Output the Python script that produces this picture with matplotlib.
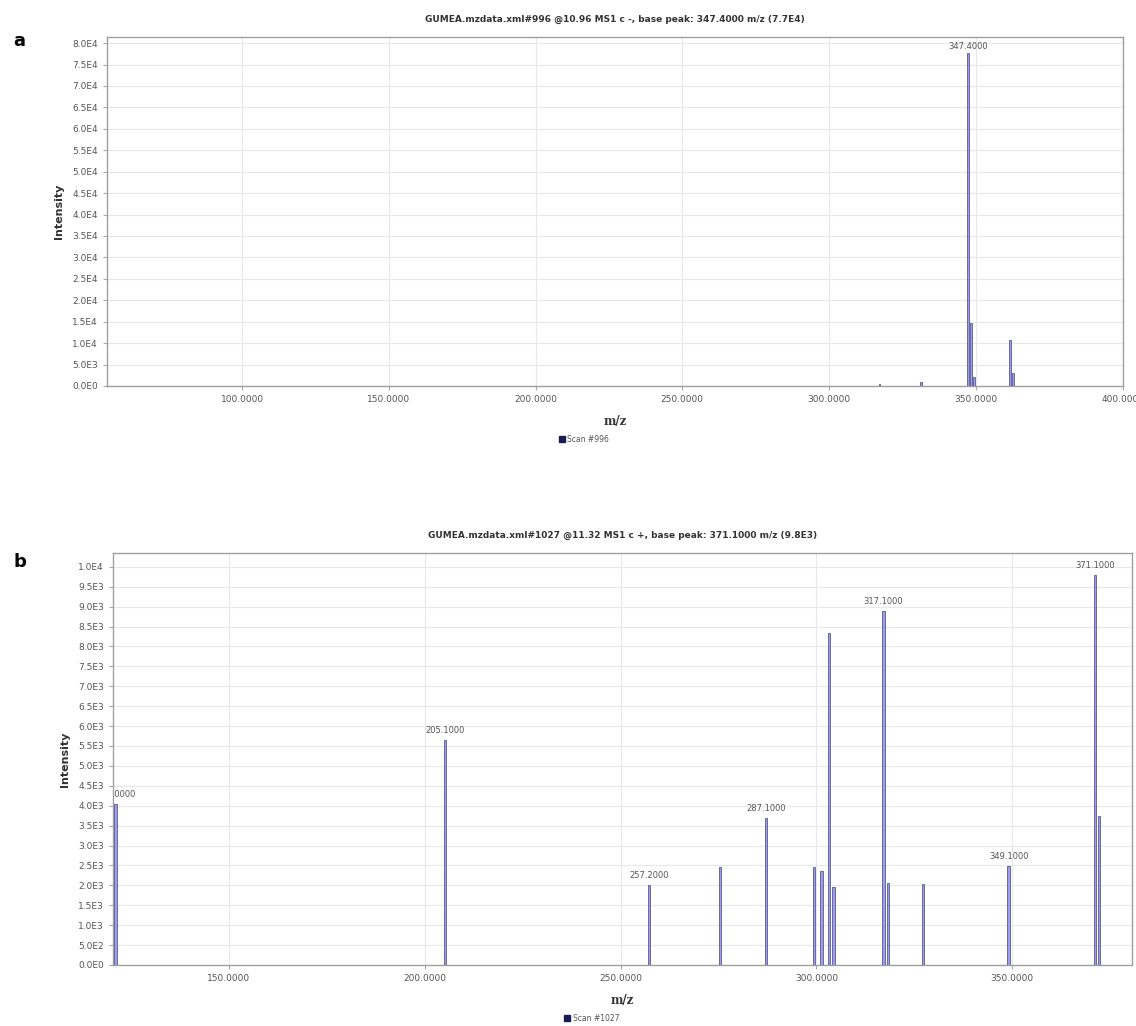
import matplotlib.pyplot as plt
from matplotlib.ticker import FuncFormatter, MultipleLocator

# panel a : scan #996
a_mz = [317.2, 331.3, 347.4, 348.4, 349.4, 361.6, 362.6]
a_int = [500, 900, 77600, 14600, 2200, 10700, 3000]
a_labels = {347.4: '347.4000'}
a_title = 'GUMEA.mzdata.xml#996 @10.96 MS1 c -, base peak: 347.4000 m/z (7.7E4)'
a_scan = 'Scan #996'

# panel b : scan #1027
b_mz = [121.0, 205.1, 257.2, 275.4, 287.1, 299.4, 301.3, 303.3, 304.4,
        317.1, 318.3, 327.3, 349.1, 371.1, 372.2]
b_int = [4050, 5650, 2020, 2450, 3700, 2450, 2350, 8350, 1950,
         8900, 2050, 2030, 2480, 9800, 3750]
b_labels = {121.0: '121.0000', 205.1: '205.1000', 257.2: '257.2000', 287.1: '287.1000',
            317.1: '317.1000', 349.1: '349.1000', 371.1: '371.1000'}
b_title = 'GUMEA.mzdata.xml#1027 @11.32 MS1 c +, base peak: 371.1000 m/z (9.8E3)'
b_scan = 'Scan #1027'


def sci(v, pos):
    if v == 0:
        return '0.0E0'
    e = len(str(int(abs(v)))) - 1
    return '%.1fE%d' % (v / 10 ** e, e)


def draw(ax, mz, inten, labels, title, scan, xlim, ylim, ystep, lab_off, leg_y):
    ax.bar(mz, inten, width=0.6, color='#9c9cf0', edgecolor='#5a5a8c',
           linewidth=0.6, zorder=3)
    for m, t in labels.items():
        h = inten[mz.index(m)]
        ax.text(m, h + lab_off, t, ha='center', va='bottom', fontsize=6,
                color='#555555', clip_on=True, zorder=4)
    ax.set_xlim(*xlim)
    ax.set_ylim(*ylim)
    ax.xaxis.set_major_locator(MultipleLocator(50))
    ax.yaxis.set_major_locator(MultipleLocator(ystep))
    ax.xaxis.set_major_formatter(FuncFormatter(lambda v, p: '%.4f' % v))
    ax.yaxis.set_major_formatter(FuncFormatter(sci))
    ax.grid(True, color='#e8e8e8', linewidth=0.8, zorder=0)
    ax.tick_params(labelsize=6.5, labelcolor='#555555', color='#aaaaaa', length=3)
    for s in ax.spines.values():
        s.set_color('#a0a0a0')
        s.set_linewidth(1.0)
    ax.set_title(title, fontsize=6.5, fontweight='bold', color='#333333', pad=11)
    ax.set_xlabel('m/z', fontsize=8.5, fontweight='bold', family='DejaVu Serif',
                  color='#333333', labelpad=8)
    ax.set_ylabel('Intensity', fontsize=8, fontweight='bold', color='#333333',
                  labelpad=6)
    ax.plot([], [], 's', color='#1a1a55', markersize=4, label=scan)
    ax.legend(loc='upper center', bbox_to_anchor=(0.47, leg_y), frameon=False,
              fontsize=5.5, handlelength=0.6, handletextpad=0.4, labelcolor='#555555',
              borderpad=0.2)


fig = plt.figure(figsize=(11.36, 10.26), dpi=100)
ax1 = fig.add_axes([0.0942, 0.6238, 0.894, 0.340])
ax2 = fig.add_axes([0.0995, 0.0595, 0.897, 0.4016])

draw(ax1, a_mz, a_int, a_labels, a_title, a_scan, (54, 400), (0, 81400), 5000, 600, -0.125)
draw(ax2, b_mz, b_int, b_labels, b_title, b_scan, (120.4, 380.6), (0, 10350), 500, 120, -0.106)

fig.text(0.012, 0.955, 'a', fontsize=13, fontweight='bold')
fig.text(0.012, 0.447, 'b', fontsize=13, fontweight='bold')

fig.savefig('out.png', dpi=100)
